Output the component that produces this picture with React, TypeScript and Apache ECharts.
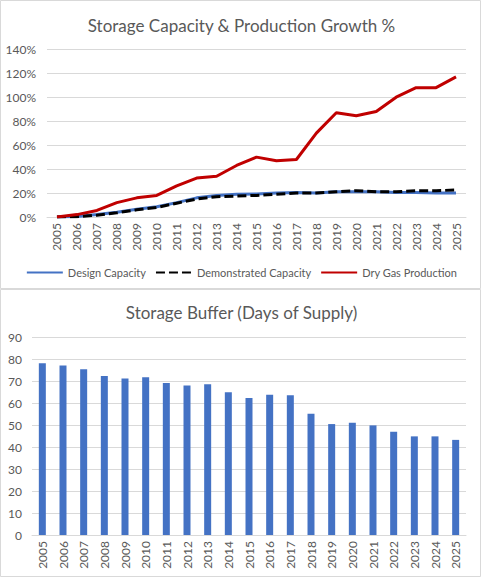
import React, { useEffect, useRef } from "react";
import * as echarts from "echarts";

const years = [
  "2005", "2006", "2007", "2008", "2009", "2010", "2011", "2012", "2013", "2014", "2015",
  "2016", "2017", "2018", "2019", "2020", "2021", "2022", "2023", "2024", "2025",
];

// Growth since 2005, in percent
const designCapacity = [0, 0.5, 2, 4, 6.5, 8.5, 12, 16, 18, 19, 19.2, 20, 20.5, 20, 21, 21, 21, 20.5, 20.5, 20, 20];
const demonstratedCapacity = [0, 0.3, 1.5, 3.5, 6, 8, 11.5, 15, 17, 17.5, 18, 19, 20, 20, 21, 22, 21, 21, 22, 22, 22.5];
const dryGasProduction = [0, 2, 5.5, 12, 16, 18, 26, 32.5, 34, 43, 50, 47, 48, 70, 87, 84.5, 88, 100, 108, 108, 117];

// Storage buffer, days of supply
const bufferDays = [78.2, 77.2, 75.4, 72.4, 71.2, 71.8, 69.2, 68.1, 68.6, 65.0, 62.4, 63.9, 63.6, 55.2, 50.5, 51.1, 49.9, 47.0, 44.9, 44.9, 43.3];

const FONT = "Lato, 'Open Sans', sans-serif";
const TEXT = "#595959";
const GRID = "#D9D9D9";

export default function App() {
  const ref = useRef<HTMLDivElement>(null);

  useEffect(() => {
    if (!ref.current) return;
    const chart = echarts.init(ref.current, null, { renderer: "svg" });

    const xAxisCommon = {
      type: "category" as const,
      data: years,
      boundaryGap: true,
      axisLine: { lineStyle: { color: GRID, width: 1 } },
      axisTick: { show: false },
      axisLabel: { rotate: 90, color: TEXT, fontFamily: FONT, fontSize: 12, margin: 6, interval: 0 },
    };

    chart.setOption({
      animation: false,
      textStyle: { fontFamily: FONT },
      title: [
        {
          text: "Storage Capacity & Production Growth %",
          left: "center",
          top: 12,
          textStyle: { color: TEXT, fontFamily: FONT, fontSize: 17, fontWeight: "normal" },
        },
        {
          text: "Storage Buffer (Days of Supply)",
          left: "center",
          top: 299,
          textStyle: { color: TEXT, fontFamily: FONT, fontSize: 17, fontWeight: "normal" },
        },
      ],
      legend: {
        data: ["Design Capacity", "Demonstrated Capacity", "Dry Gas Production"],
        left: "center",
        top: 262,
        itemWidth: 36,
        itemHeight: 12,
        itemGap: 9,
        itemStyle: { opacity: 0 },
        textStyle: { color: TEXT, fontFamily: FONT, fontSize: 11 },
      },
      graphic: [
        { type: "rect", shape: { x: 0.5, y: 0.5, width: 480, height: 288 }, style: { fill: "none", stroke: GRID, lineWidth: 1 }, silent: true },
        { type: "rect", shape: { x: 0.5, y: 289.5, width: 480, height: 287 }, style: { fill: "none", stroke: GRID, lineWidth: 1 }, silent: true },
      ],
      grid: [
        { left: 47, right: 17, top: 49.3, height: 167.7 },
        { left: 32, right: 17, top: 337.3, height: 197.7 },
      ],
      xAxis: [
        { ...xAxisCommon, gridIndex: 0 },
        { ...xAxisCommon, gridIndex: 1 },
      ],
      yAxis: [
        {
          type: "value",
          gridIndex: 0,
          min: 0,
          max: 140,
          interval: 20,
          axisLine: { show: false },
          axisTick: { show: false },
          splitLine: { lineStyle: { color: GRID, width: 1 } },
          axisLabel: { color: TEXT, fontFamily: FONT, fontSize: 12, margin: 11, formatter: (v: number) => `${v}%` },
        },
        {
          type: "value",
          gridIndex: 1,
          min: 0,
          max: 90,
          interval: 10,
          axisLine: { show: false },
          axisTick: { show: false },
          splitLine: { lineStyle: { color: GRID, width: 1 } },
          axisLabel: { color: TEXT, fontFamily: FONT, fontSize: 12, margin: 10 },
        },
      ],
      series: [
        {
          name: "Design Capacity",
          type: "line",
          xAxisIndex: 0,
          yAxisIndex: 0,
          data: designCapacity,
          symbol: "none",
          color: "#4472C4",
          lineStyle: { color: "#4472C4", width: 3 },
        },
        {
          name: "Demonstrated Capacity",
          type: "line",
          xAxisIndex: 0,
          yAxisIndex: 0,
          data: demonstratedCapacity,
          symbol: "none",
          color: "#000000",
          lineStyle: { color: "#000000", width: 3, type: [9, 4] },
        },
        {
          name: "Dry Gas Production",
          type: "line",
          xAxisIndex: 0,
          yAxisIndex: 0,
          data: dryGasProduction,
          symbol: "none",
          color: "#C00000",
          lineStyle: { color: "#C00000", width: 3 },
        },
        {
          name: "Storage Buffer",
          type: "bar",
          xAxisIndex: 1,
          yAxisIndex: 1,
          data: bufferDays,
          barWidth: 7,
          itemStyle: { color: "#4472C4" },
        },
      ],
    });

    return () => chart.dispose();
  }, []);

  return (
    <div
      ref={ref}
      style={{ position: "absolute", left: 0, top: 0, width: 483, height: 579, background: "#fff" }}
    />
  );
}
